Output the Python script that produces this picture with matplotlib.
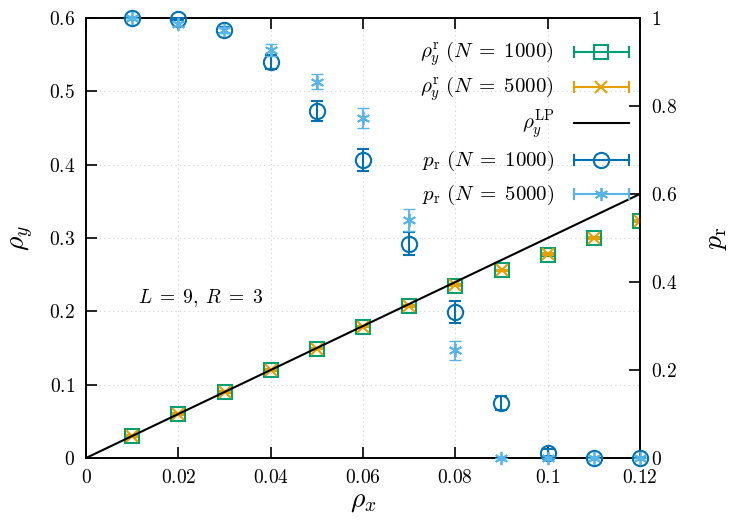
import matplotlib
matplotlib.use("Agg")
import matplotlib.pyplot as plt
from matplotlib.lines import Line2D
from matplotlib.ticker import MultipleLocator, FuncFormatter

plt.rcParams['mathtext.fontset'] = 'cm'
plt.rcParams['font.family'] = ['DejaVu Serif']

rho_x = [0.01, 0.02, 0.03, 0.04, 0.05, 0.06, 0.07, 0.08, 0.09, 0.10, 0.11, 0.12]
rhoy_1000 = [0.030, 0.060, 0.090, 0.120, 0.149, 0.179, 0.207, 0.235, 0.256, 0.277, 0.300, 0.323]
rhoy_5000 = [0.030, 0.060, 0.090, 0.120, 0.149, 0.179, 0.207, 0.236, 0.256, 0.278, 0.300, 0.323]
rhoy_err = [0.001] * 12
lp_x = [0.0, 0.12]
lp_y = [0.0, 0.36]
pr_1000 = [1.0, 0.998, 0.973, 0.90, 0.789, 0.677, 0.487, 0.332, 0.125, 0.012, 0.0, 0.0]
pr_1000_err = [0.0, 0.003, 0.006, 0.015, 0.022, 0.025, 0.026, 0.025, 0.016, 0.008, 0.0, 0.0]
pr_5000 = [1.0, 0.986, 0.973, 0.927, 0.855, 0.773, 0.541, 0.245, 0.0, 0.0, 0.0, 0.0]
pr_5000_err = [0.0, 0.004, 0.006, 0.013, 0.017, 0.023, 0.026, 0.022, 0.0, 0.0, 0.0, 0.0]

legend_labels = [r'$\rho_y^{\mathrm{r}}\ (N \;=\; 1000)$', r'$\rho_y^{\mathrm{r}}\ (N \;=\; 5000)$',
                 r'$\rho_y^{\mathrm{LP}}$', r'$p_{\mathrm{r}}\ (N \;=\; 1000)$',
                 r'$p_{\mathrm{r}}\ (N \;=\; 5000)$']

GREEN = '#009e73'
ORANGE = '#e69f00'
DBLUE = '#0072b2'
LBLUE = '#56b4e9'
AST = (6, 2, 0)

W, H = 753, 523
L, R, T, B = 86, 640, 18, 458
fig = plt.figure(figsize=(W / 100, H / 100), dpi=100)
ax = fig.add_axes([L / W, 1 - B / H, (R - L) / W, (B - T) / H])
ax2 = ax.twinx()

ax.set_xlim(0, 0.12)
ax.set_ylim(0, 0.6)
ax2.set_ylim(0, 1)

ax.errorbar(rho_x, rhoy_1000, yerr=rhoy_err, fmt='s', ms=10, mfc='none', mec=GREEN,
            mew=1.5, ecolor=GREEN, capsize=4, elinewidth=1.2, zorder=3)
ax.errorbar(rho_x, rhoy_5000, yerr=rhoy_err, fmt='x', ms=9, mec=ORANGE, mew=1.5,
            ecolor=ORANGE, capsize=4, elinewidth=1.2, zorder=4)
ax.plot(lp_x, lp_y, color='black', lw=1.5, zorder=5)
ax2.errorbar(rho_x, pr_1000, yerr=pr_1000_err, fmt='o', ms=11, mfc='none', mec=DBLUE,
             mew=1.5, ecolor=DBLUE, capsize=4.5, elinewidth=1.5, zorder=3, clip_on=False)
ax2.errorbar(rho_x, pr_5000, yerr=pr_5000_err, fmt='none', ecolor=LBLUE, capsize=4.5,
             elinewidth=1.3, zorder=4, clip_on=False)
ax2.plot(rho_x, pr_5000, ls='none', marker=AST, ms=9.5, mec=LBLUE, mew=1.3, zorder=4,
         clip_on=False)

ax.xaxis.set_major_locator(MultipleLocator(0.02))
ax.yaxis.set_major_locator(MultipleLocator(0.1))
ax2.yaxis.set_major_locator(MultipleLocator(0.2))


def fmt(v, pos):
    s = ('%.2f' % v).rstrip('0').rstrip('.')
    return r'$%s$' % s


ax.xaxis.set_major_formatter(FuncFormatter(fmt))
ax.yaxis.set_major_formatter(FuncFormatter(fmt))
ax2.yaxis.set_major_formatter(FuncFormatter(fmt))

ax.tick_params(axis='x', direction='in', top=True, bottom=True, length=8, width=1.2,
               labelsize=14, pad=8)
ax.tick_params(axis='y', direction='in', left=True, right=False, length=8, width=1.2,
               labelsize=14, pad=8)
ax2.tick_params(axis='y', direction='in', right=True, length=8, width=1.2,
                labelsize=14, pad=8)
for a in (ax, ax2):
    for s in a.spines.values():
        s.set_linewidth(1.2)

ax.grid(True, color='#d0d0d0', ls=(0, (1, 3)), lw=0.8)
ax.set_axisbelow(True)

ax.set_xlabel(r'$\rho_x$', fontsize=20, labelpad=0)
ax.set_ylabel(r'$\rho_y$', fontsize=20, labelpad=9)
ax2.set_ylabel(r'$p_{\mathrm{r}}$', fontsize=20, rotation=90, labelpad=18)

ax.text(0.0113, 0.218, r'$L \;=\; 9,\; R \;=\; 3$', fontsize=14, va='center', ha='left')

# manual legend (gnuplot style: text right-aligned, horizontal error-bar samples)
styles = [
    dict(color=GREEN, marker='s', ms=10, mew=1.5, err=True),
    dict(color=ORANGE, marker='x', ms=9, mew=1.5, err=True),
    dict(color='black', marker=None, ms=0, mew=1.5, err=False),
    dict(color=DBLUE, marker='o', ms=11, mew=1.5, err=True),
    dict(color=LBLUE, marker=AST, ms=9.5, mew=1.3, err=True),
]
rows_px = [52, 87, 123, 160, 194]
text_right, h0, h1 = 554, 574, 629
fx = lambda px: (px - L) / (R - L)
fy = lambda py: (B - py) / (B - T)
for lab, st, py in zip(legend_labels, styles, rows_px):
    ax2.text(fx(text_right), fy(py + 6), lab, transform=ax2.transAxes, ha='right',
             va='baseline', fontsize=15, zorder=10)
    ax2.add_line(Line2D([fx(h0), fx(h1)], [fy(py), fy(py)], transform=ax2.transAxes,
                        color=st['color'], lw=1.5, zorder=10, clip_on=False))
    if st['err']:
        for hx in (h0, h1):
            ax2.add_line(Line2D([fx(hx), fx(hx)], [fy(py - 5), fy(py + 5)],
                                transform=ax2.transAxes, color=st['color'], lw=1.5,
                                zorder=10, clip_on=False))
    if st['marker'] is not None:
        ax2.add_line(Line2D([fx((h0 + h1) / 2)], [fy(py)], transform=ax2.transAxes,
                            ls='none', marker=st['marker'], ms=st['ms'], mfc='none',
                            mec=st['color'], mew=st['mew'], zorder=10, clip_on=False))

fig.savefig('out.png', dpi=100)
